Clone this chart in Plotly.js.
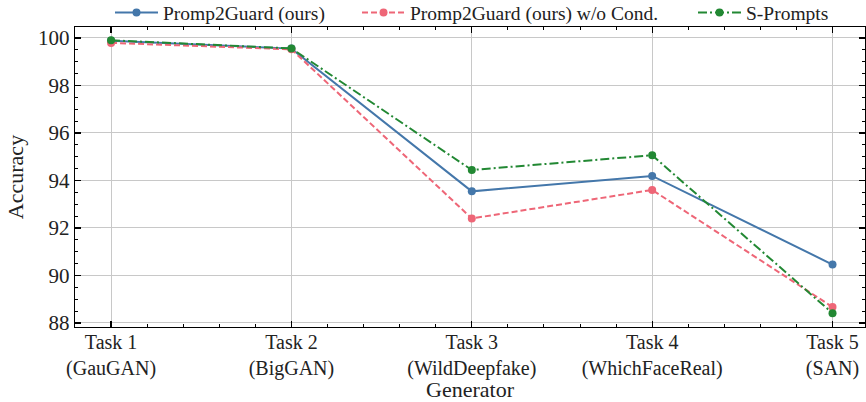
<!DOCTYPE html>
<html>
<head>
<meta charset="utf-8">
<script src="https://cdn.plot.ly/plotly-3.0.1.min.js"></script>
<style>html,body{margin:0;padding:0;background:#fff;}</style>
</head>
<body>
<div id="chart" style="width:866px;height:402px;"></div>
<script>
const taskIndex = [0, 1, 2, 3, 4];
const taskLabels = ["Task 1<br>(GauGAN)", "Task 2<br>(BigGAN)", "Task 3<br>(WildDeepfake)", "Task 4<br>(WhichFaceReal)", "Task 5<br>(SAN)"];
const promp2guard = [99.88, 99.55, 93.54, 94.19, 90.46];
const promp2guardNoCond = [99.79, 99.52, 92.40, 93.60, 88.67];
const sPrompts = [99.90, 99.56, 94.44, 95.06, 88.41];
const yTicks = [88, 90, 92, 94, 96, 98, 100];

const FONT = "Liberation Serif";
const BLUE = "#4477AA", RED = "#EE6677", GREEN = "#228833";

const traces = [
  {x: taskIndex, y: promp2guard, name: "Promp2Guard (ours)", mode: "lines+markers",
   line: {color: BLUE, width: 2}, marker: {color: BLUE, size: 8}, legend: "legend"},
  {x: taskIndex, y: promp2guardNoCond, name: "Promp2Guard (ours) w/o Cond.", mode: "lines+markers",
   line: {color: RED, width: 2, dash: "6px,3px"}, marker: {color: RED, size: 8}, legend: "legend2"},
  {x: taskIndex, y: sPrompts, name: "S-Prompts", mode: "lines+markers",
   line: {color: GREEN, width: 2, dash: "9px,3px,2px,3px"}, marker: {color: GREEN, size: 8}, legend: "legend3"}
];

const legendBase = {orientation: "h", yanchor: "middle", y: 1.047, xanchor: "left",
  bgcolor: "rgba(0,0,0,0)", font: {family: FONT, size: 19.5, color: "#222"}, itemwidth: 43};

const layout = {
  width: 866, height: 402,
  margin: {l: 75, r: 1, t: 27, b: 75, autoexpand: false},
  paper_bgcolor: "#fff", plot_bgcolor: "#fff",
  font: {family: FONT, color: "#222"},
  showlegend: true,
  legend: Object.assign({}, legendBase, {x: 0.0443}),
  legend2: Object.assign({}, legendBase, {x: 0.357}),
  legend3: Object.assign({}, legendBase, {x: 0.7823}),
  xaxis: {
    range: [-0.2, 4.18], tickvals: taskIndex, ticktext: taskLabels,
    showgrid: true, gridcolor: "#c8c8c8", gridwidth: 1,
    showline: true, linecolor: "#000", linewidth: 1.3, mirror: "ticks",
    ticks: "inside", ticklen: 6, tickwidth: 1.2, tickcolor: "#000",
    minor: {dtick: 0.2, tick0: 0, ticks: "inside", ticklen: 3, tickwidth: 1, tickcolor: "#000", showgrid: false},
    tickfont: {family: FONT, size: 20, color: "#222"},
    ticklabelstandoff: -3,
    title: {text: "Generator", font: {family: FONT, size: 22, color: "#222"}, standoff: 6},
    automargin: false,
    zeroline: false
  },
  yaxis: {
    range: [87.83, 100.46], tickvals: yTicks, ticktext: yTicks.map(String),
    showgrid: true, gridcolor: "#c8c8c8", gridwidth: 1,
    showline: true, linecolor: "#000", linewidth: 1.3, mirror: "ticks",
    ticks: "inside", ticklen: 6, tickwidth: 1.2, tickcolor: "#000",
    minor: {dtick: 0.5, tick0: 88, ticks: "inside", ticklen: 3, tickwidth: 1, tickcolor: "#000", showgrid: false},
    tickfont: {family: FONT, size: 21, color: "#222"},
    title: {text: "Accuracy", font: {family: FONT, size: 22, color: "#222"}, standoff: 8},
    automargin: false,
    zeroline: false
  }
};

Plotly.newPlot("chart", traces, layout, {displayModeBar: false, staticPlot: true});
</script>
</body>
</html>
